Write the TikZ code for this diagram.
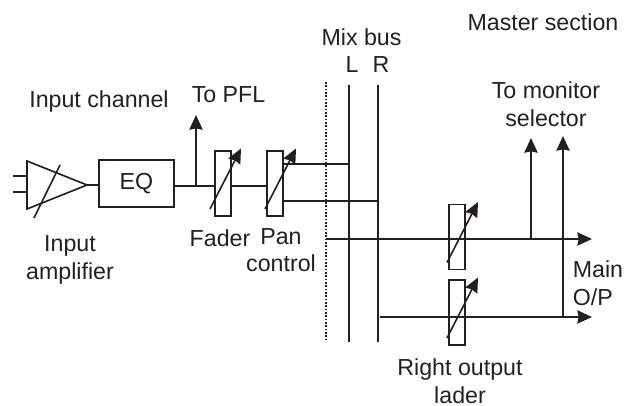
\documentclass[tikz,border=0pt]{standalone}
\usepackage{fontspec}
\setmainfont{Liberation Sans}
\usetikzlibrary{shapes.geometric, arrows.meta, positioning}
\definecolor{inkline}{HTML}{231F20}
\tikzset{
    mixer/.style={x=0.75pt, y=-0.75pt, font=\fontsize{17.4}{20.7}\selectfont, line width=1.2pt, draw=inkline, text=inkline},
    mixer box/.style={draw=inkline, inner sep=0pt, outer sep=0pt, minimum width=56pt, minimum height=35pt},
    fader box/.style={draw=inkline, inner sep=0pt, outer sep=0pt, minimum width=12pt, minimum height=48.5pt},
    amp shape/.style={draw=inkline, isosceles triangle, isosceles triangle stretches, inner sep=0pt,
        outer sep=0pt, minimum width=36pt, minimum height=45pt},
    mixer arrow/.style={draw=inkline, -{Stealth[inset=1pt, length=11pt, width=10pt]}},
    mixer line/.style={draw=inkline},
    mixer label/.style={align=center, inner sep=0pt},
    mixer base/.style={anchor=base, inner sep=0pt},
}

\begin{document}
\begin{tikzpicture}[mixer]
  \useasboundingbox (0,0) rectangle (626,406);
  % signal chain
  \node[amp shape, anchor=apex] (amp) at (87,185) {};
  \node[mixer box] (eq) at (136.5,183.5) {EQ};
  \node[fader box] (fader) at (223,183.5) {};
  \node[fader box] (pan) at (275,183.5) {};
  \node[fader box] (outmain) at (457,237) {};
  \node[fader box] (outright) at (457,312.5) {};
  % free ends
  \coordinate (inup) at (13,176);
  \coordinate (indown) at (13,192);
  \coordinate (pfl) at (196,115);
  \coordinate (panleft) at (283,164);
  \coordinate (panright) at (283,201);
  \coordinate (dottop) at (326,82);
  \coordinate (dotbot) at (326,342);
  \coordinate (ltop) at (349,85);
  \coordinate (lbot) at (349,342);
  \coordinate (rtop) at (378,85);
  \coordinate (rbot) at (378,342);
  \coordinate (mainstart) at (326,239);
  \coordinate (mainend) at (592,239);
  \coordinate (rightstart) at (380,317);
  \coordinate (rightend) at (592,317);
  \coordinate (montap) at (531,239);
  \coordinate (montop) at (531,138);
  \coordinate (rtap) at (563,317);
  \coordinate (rtapend) at (563,136);
  \coordinate (ampslasta) at (34,218);
  \coordinate (ampslastb) at (60,165);
  \coordinate (ampin) at (27,176);
  \coordinate (ampinb) at (27,192);
  \coordinate (pfltap) at (196,186);
  % connectors
  \draw[mixer line] (inup) -- (ampin);
  \draw[mixer line] (indown) -- (ampinb);
  \draw[mixer line] (ampslasta) -- (ampslastb);
  \draw[mixer line] (amp.apex) -- (eq.west |- amp.apex);
  \draw[mixer line] (eq.east |- pfltap) -- (fader.west |- pfltap);
  \draw[mixer line] (fader.east |- pfltap) -- (pan.west |- pfltap);
  \draw[mixer arrow] (pfltap) -- (pfl);
  \draw[mixer line] (panleft) -- (panleft -| ltop);
  \draw[mixer line] (panright) -- (panright -| rtop);
  \draw[mixer line, dash pattern=on 1.2pt off 1.3pt] (dottop) -- (dotbot);
  \draw[mixer line] (ltop) -- (lbot);
  \draw[mixer line] (rtop) -- (rbot);
  \draw[mixer arrow] (mainstart) -- (mainend);
  \draw[mixer arrow] (rightstart) -- (rightend);
  \draw[mixer arrow] (montap) -- (montop);
  \draw[mixer arrow] (rtap) -- (rtapend);
  \foreach \n/\s in {fader/-3, pan/0, outmain/0, outright/0}
    \draw[mixer arrow] ([shift={(\s-10,25.5)}]\n.center) -- ([shift={(\s+21,-35)}]\n.center);
  % labels
  \node[mixer base] (mixlabel) at (361.5,46) {Mix bus};
  \node[mixer base] (llabel) at (352,73) {L};
  \node[mixer base] (rlabel) at (381,73) {R};
  \node[mixer base] (masterlabel) at (543,31) {Master section};
  \node[mixer base] (channellabel) at (99,108) {Input channel};
  \node[mixer base] (pfllabel) at (228.5,103) {To PFL};
  \node[mixer label] (monlabel) at (546,104) {To monitor\\selector};
  \node[mixer label] (amplabel) at (70,260) {Input\\amplifier};
  \node[mixer base] (faderlabel) at (220,247) {Fader};
  \node[mixer label] (panlabel) at (281,250) {Pan\\control};
  \node[mixer label, align=left, anchor=west] (mainlabel) at (572,283) {Main\\O/P};
  \node[mixer label] (rightlabel) at (460,381) {Right output\\lader};
\end{tikzpicture}
\end{document}
